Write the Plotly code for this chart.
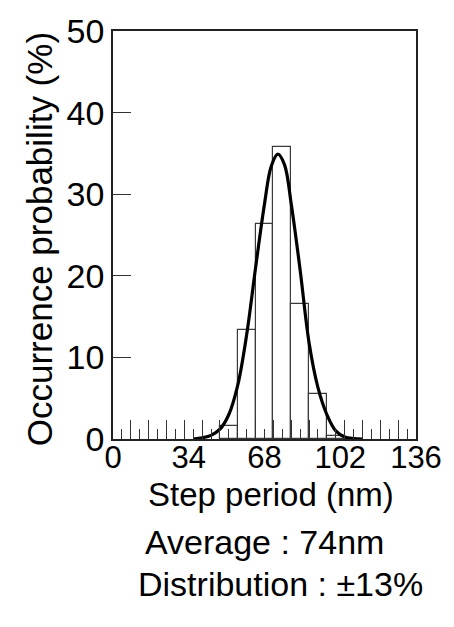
import plotly.graph_objects as go

# Histogram bins (nm) and occurrence probability (%)
bin_centers = [52, 60, 68, 76, 84, 92, 100]
bin_values = [1.6, 13.4, 26.4, 35.8, 16.5, 5.5, 0.4]
bin_width = 8

# Fitted distribution curve
curve_x = [36, 40, 44, 48, 52, 56, 60, 64, 68, 71, 74, 77, 80, 84, 88, 92, 96, 100, 104, 108, 112]
curve_y = [0.0, 0.15, 0.45, 1.2, 3.0, 6.6, 12.8, 21.0, 28.8, 33.4, 34.9, 33.6, 28.8, 20.7, 11.8, 6.3, 3.0, 1.0, 0.25, 0.05, 0.0]

x_tick_vals = [0, 34, 68, 102, 136]
x_tick_text = ["0", "34", "68", "102", "136"]
y_tick_vals = [0, 10, 20, 30, 40, 50]

FONT = "Liberation Sans, Arial, sans-serif"

fig = go.Figure()
fig.add_trace(go.Bar(
    x=bin_centers, y=bin_values, width=bin_width,
    marker=dict(color="rgba(255,255,255,0)", line=dict(color="#3a3a3a", width=1.2)),
    showlegend=False, hoverinfo="skip",
))
fig.add_trace(go.Scatter(
    x=curve_x, y=curve_y, mode="lines", xaxis="x2",
    line=dict(color="black", width=3.2, shape="spline", smoothing=1.0),
    showlegend=False,
))

fig.update_layout(
    width=454, height=627,
    margin=dict(l=113, r=29, t=22, b=188),
    paper_bgcolor="white", plot_bgcolor="white",
    font=dict(family=FONT, color="black"),
    bargap=0,
    xaxis=dict(
        range=[0, 136], showgrid=False, zeroline=False,
        showline=True, linecolor="#222", linewidth=1.5, mirror=True,
        ticks="inside", tick0=0, dtick=8, ticklen=19, tickwidth=1, tickcolor="#333",
        minor=dict(ticks="inside", dtick=4, tick0=0, ticklen=10, tickwidth=1, tickcolor="#333"),
        showticklabels=False,
    ),
    xaxis2=dict(
        range=[0, 136], overlaying="x", anchor="y", side="bottom",
        showgrid=False, zeroline=False, showline=False, ticks="",
        tickvals=x_tick_vals, ticktext=x_tick_text, ticklabelstandoff=-3,
        tickfont=dict(size=31, family=FONT, color="black"),
    ),
    yaxis=dict(
        range=[0, 50], showgrid=False, zeroline=False,
        showline=True, linecolor="#222", linewidth=1.5, mirror=True,
        ticks="inside", tickvals=y_tick_vals, ticklen=18, tickwidth=1, tickcolor="#333",
        tickfont=dict(size=34, family=FONT, color="black"),
    ),
    annotations=[
        dict(text="Occurrence probability (%)", xref="paper", yref="paper",
             x=-0.2436, y=0.49, textangle=-90, showarrow=False,
             xanchor="center", yanchor="middle", font=dict(size=35, family=FONT)),
        dict(text="Step period (nm)", xref="paper", yref="paper",
             x=0.522, y=-0.1353, showarrow=False, xanchor="center", yanchor="middle",
             font=dict(size=33, family=FONT)),
        dict(text="Average : 74nm", xref="paper", yref="paper",
             x=0.50, y=-0.2527, showarrow=False, xanchor="center", yanchor="middle",
             font=dict(size=34, family=FONT)),
        dict(text="Distribution : ±13%", xref="paper", yref="paper",
             x=0.554, y=-0.3557, showarrow=False, xanchor="center", yanchor="middle",
             font=dict(size=34, family=FONT)),
    ],
)

fig.write_html("out.html")
